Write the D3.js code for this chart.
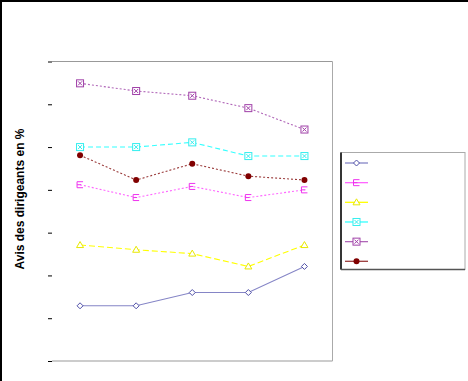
<!DOCTYPE html>
<html>
<head>
<meta charset="utf-8">
<script src="https://cdn.jsdelivr.net/npm/d3@7"></script>
<style>
html,body{margin:0;padding:0;background:#fff;}
svg{display:block;}
</style>
</head>
<body>
<svg id="chart" width="468" height="381"></svg>
<script>
const categories = ["1", "2", "3", "4", "5"];
const tickValues = [0, 10, 20, 30, 40, 50, 60, 70];
const seriesNames = ["S1", "S2", "S3", "S4", "S5", "S6"];
const valuesBlue    = [12.9, 12.9, 16.0, 16.0, 22.1];
const valuesMagenta = [41.2, 38.2, 40.8, 38.2, 40.0];
const valuesYellow  = [27.1, 26.0, 25.1, 22.1, 27.1];
const valuesCyan    = [50.0, 50.0, 51.1, 47.9, 47.9];
const valuesPurple  = [64.9, 63.1, 62.0, 59.1, 54.1];
const valuesDarkRed = [48.1, 42.3, 46.1, 43.2, 42.3];
const yTitle = "Avis des dirigeants en %";

const series = [
  {name: seriesNames[0], values: valuesBlue,    line: "#8585c6", mark: "#5050a8", shape: "diamond", dash: null},
  {name: seriesNames[1], values: valuesMagenta, line: "#ff66ff", mark: "#ee33ee", shape: "bracket", dash: "2,2"},
  {name: seriesNames[2], values: valuesYellow,  line: "#ffff00", mark: "#e8e800", shape: "triangle", dash: "6,3"},
  {name: seriesNames[3], values: valuesCyan,    line: "#33ffff", mark: "#33eeee", shape: "xbox", dash: "5,3"},
  {name: seriesNames[4], values: valuesPurple,  line: "#b066b8", mark: "#a040a8", shape: "xbox", dash: "2,2"},
  {name: seriesNames[5], values: valuesDarkRed, line: "#9a3a3a", mark: "#800000", shape: "circle", dash: "2,2"}
];

const svg = d3.select("#chart");
const pLeft = 52, pRight = 332.5, pTop = 61.5, pBottom = 361;

// outer border (top and left)
svg.append("line").attr("x1",0).attr("x2",468).attr("y1",1).attr("y2",1).attr("stroke","#000").attr("stroke-width",2);
svg.append("line").attr("x1",1).attr("x2",1).attr("y1",0).attr("y2",381).attr("stroke","#000").attr("stroke-width",2);

const x = d3.scalePoint().domain(categories).range([pLeft, pRight]).padding(0.5);
const y = d3.scaleLinear().domain([0, 70]).range([pBottom, pTop]);

// plot frame
svg.append("line").attr("x1",pLeft).attr("x2",pRight).attr("y1",y(70)).attr("y2",y(70)).attr("stroke","#999").attr("stroke-width",1);
svg.append("line").attr("x1",pLeft).attr("x2",pRight).attr("y1",y(0)).attr("y2",y(0)).attr("stroke","#999").attr("stroke-width",1);
svg.append("line").attr("x1",pRight).attr("x2",pRight).attr("y1",y(70)).attr("y2",y(0)).attr("stroke","#aaa").attr("stroke-width",1);

// y axis ticks without labels
const yAxis = svg.append("g").attr("transform",`translate(${pLeft},0)`)
  .call(d3.axisLeft(y).tickValues(tickValues).tickSize(4).tickFormat(() => ""));
yAxis.select(".domain").remove();
yAxis.selectAll(".tick line").attr("stroke","#000");

// title
svg.append("text")
  .attr("transform",`translate(24,199) rotate(-90)`)
  .attr("text-anchor","middle")
  .attr("font-family","Liberation Sans, Arial, sans-serif")
  .attr("font-weight","bold")
  .attr("font-size",12)
  .text(yTitle);

function drawMarker(g, shape, cx, cy, color) {
  if (shape === "diamond") {
    g.append("path").attr("d",`M${cx},${cy-3}L${cx+3},${cy}L${cx},${cy+3}L${cx-3},${cy}Z`)
      .attr("fill","#fff").attr("stroke",color).attr("stroke-width",1);
  } else if (shape === "bracket") {
    g.append("path").attr("d",`M${cx-3},${cy-3}H${cx+3}M${cx-3},${cy-3}V${cy+3}M${cx-3},${cy+3}H${cx+3}M${cx-3},${cy}H${cx+1}`)
      .attr("fill","none").attr("stroke",color).attr("stroke-width",1);
  } else if (shape === "triangle") {
    g.append("path").attr("d",`M${cx},${cy-3.5}L${cx+3.5},${cy+2.5}L${cx-3.5},${cy+2.5}Z`)
      .attr("fill","#fff").attr("stroke",color).attr("stroke-width",1);
  } else if (shape === "xbox") {
    g.append("rect").attr("x",cx-3.5).attr("y",cy-3.5).attr("width",7).attr("height",7)
      .attr("fill","#fff").attr("stroke",color).attr("stroke-width",1);
    g.append("path").attr("d",`M${cx-2},${cy-2}L${cx+2},${cy+2}M${cx+2},${cy-2}L${cx-2},${cy+2}`)
      .attr("stroke",color).attr("stroke-width",1);
  } else if (shape === "circle") {
    g.append("circle").attr("cx",cx).attr("cy",cy).attr("r",3).attr("fill",color);
  }
}

const line = d3.line().x((d,i) => x(categories[i])).y(d => y(d));

series.forEach(s => {
  const g = svg.append("g");
  g.append("path").attr("d", line(s.values)).attr("fill","none")
    .attr("stroke", s.line).attr("stroke-width", 1.1)
    .attr("stroke-dasharray", s.dash);
  s.values.forEach((v,i) => drawMarker(g, s.shape, x(categories[i]), y(v), s.mark));
});

// legend
const lg = svg.append("g");
const lx0 = 341, ly0 = 152.5, lx1 = 465, ly1 = 269.5;
lg.append("rect").attr("x",lx0).attr("y",ly0).attr("width",lx1-lx0).attr("height",ly1-ly0)
  .attr("fill","#fff").attr("stroke","#aaa").attr("stroke-width",1);
lg.append("line").attr("x1",lx0).attr("x2",lx0).attr("y1",ly0).attr("y2",ly1).attr("stroke","#000").attr("stroke-width",1.5);
lg.append("line").attr("x1",lx0).attr("x2",lx1).attr("y1",ly1).attr("y2",ly1).attr("stroke","#555").attr("stroke-width",1.5);
const ly = d3.scalePoint().domain(seriesNames).range([163, 261.3]);
series.forEach(s => {
  const yy = ly(s.name);
  lg.append("line").attr("x1",345).attr("x2",368).attr("y1",yy).attr("y2",yy)
    .attr("stroke", s.line).attr("stroke-width",1.3);
  drawMarker(lg, s.shape, 356.5, yy, s.mark);
});
</script>
</body>
</html>
